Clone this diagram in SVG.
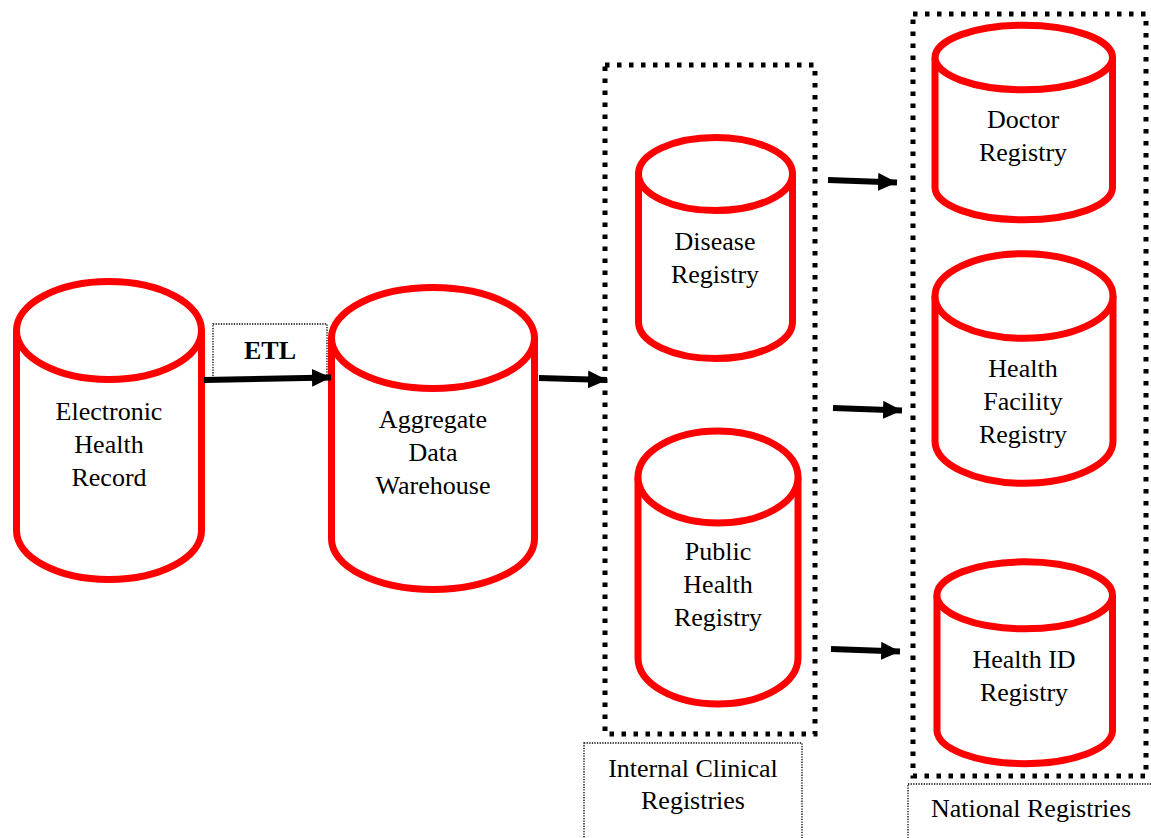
<svg xmlns="http://www.w3.org/2000/svg" width="1151" height="838" viewBox="0 0 1151 838">
<style>
.cyl{fill:#fff;stroke:#ff0000;stroke-width:7}
.t{font-family:"Liberation Serif","Times New Roman",serif;font-size:26px;fill:#000;text-anchor:middle}
.grp{fill:none;stroke:#000;stroke-width:5;stroke-dasharray:4.5 7.5}
.lbl{fill:#fff;stroke:#000;stroke-width:1.3;stroke-dasharray:1.3 1.3}
.arr{stroke:#000;stroke-width:6;fill:none;marker-end:url(#ah)}
</style>
<defs>
<marker id="ah" markerUnits="userSpaceOnUse" markerWidth="20" markerHeight="20" refX="19" refY="9" orient="auto">
<path d="M0,0 L19,9 L0,18 z" fill="#000"/>
</marker>
</defs>
<rect width="1151" height="838" fill="#fff"/>
<g id="groups">
<rect id="internal-box" class="grp" x="605" y="65" width="210" height="669"/>
<rect id="national-box" class="grp" x="913" y="14" width="233" height="762"/>
</g>
<g id="label-internal">
<rect class="lbl" x="584" y="743" width="218" height="110"/>
<text class="t" x="693" y="777">Internal Clinical</text>
<text class="t" x="693" y="809">Registries</text>
</g>
<g id="label-national">
<rect class="lbl" x="908" y="784" width="260" height="70"/>
<text class="t" x="1031" y="817">National Registries</text>
</g>
<g id="label-etl">
<rect class="lbl" x="213" y="324" width="114" height="55"/>
<text class="t" x="270" y="359" font-weight="bold">ETL</text>
</g>
<g id="ehr">
<path class="cyl" d="M16.5,330.5 L16.5,530.5 A92.5,49 0 0 0 201.5,530.5 L201.5,330.5"/>
<ellipse class="cyl" cx="109" cy="330.5" rx="92.5" ry="49"/>
<text class="t" x="109" y="420">Electronic</text>
<text class="t" x="109" y="453">Health</text>
<text class="t" x="109" y="486">Record</text>
</g>
<g id="adw">
<path class="cyl" d="M331.5,338 L331.5,539 A101.5,50.5 0 0 0 534.5,539 L534.5,338"/>
<ellipse class="cyl" cx="433" cy="338" rx="101.5" ry="50.5"/>
<text class="t" x="433" y="428">Aggregate</text>
<text class="t" x="433" y="461">Data</text>
<text class="t" x="433" y="494">Warehouse</text>
</g>
<g id="disease">
<path class="cyl" d="M638.5,174 L638.5,322 A77,36.5 0 0 0 792.5,322 L792.5,174"/>
<ellipse class="cyl" cx="715.5" cy="174" rx="77" ry="36.5"/>
<text class="t" x="715" y="250">Disease</text>
<text class="t" x="715" y="283">Registry</text>
</g>
<g id="public-health">
<path class="cyl" d="M638,477 L638,658 A80,46 0 0 0 798,658 L798,477"/>
<ellipse class="cyl" cx="718" cy="477" rx="80" ry="46"/>
<text class="t" x="718" y="560">Public</text>
<text class="t" x="718" y="593">Health</text>
<text class="t" x="718" y="626">Registry</text>
</g>
<g id="doctor">
<path class="cyl" d="M935,57.5 L935,187.5 A88.7,32.3 0 0 0 1112.5,187.5 L1112.5,57.5"/>
<ellipse class="cyl" cx="1023.8" cy="57.5" rx="88.7" ry="32.3"/>
<text class="t" x="1023" y="128">Doctor</text>
<text class="t" x="1023" y="161">Registry</text>
</g>
<g id="facility">
<path class="cyl" d="M935,296 L935,441 A89,42.3 0 0 0 1113,441 L1113,296"/>
<ellipse class="cyl" cx="1024" cy="296" rx="89" ry="42.3"/>
<text class="t" x="1023" y="377">Health</text>
<text class="t" x="1023" y="410">Facility</text>
<text class="t" x="1023" y="443">Registry</text>
</g>
<g id="healthid">
<path class="cyl" d="M937,595.3 L937,731.3 A87.8,33.5 0 0 0 1112.5,731.3 L1112.5,595.3"/>
<ellipse class="cyl" cx="1024.7" cy="595.3" rx="87.8" ry="33.5"/>
<text class="t" x="1024" y="668">Health ID</text>
<text class="t" x="1024" y="701">Registry</text>
</g>
<g id="connectors">
<line class="arr" x1="204" y1="380" x2="331" y2="377.5"/>
<line class="arr" x1="539" y1="378" x2="607" y2="380"/>
<line class="arr" x1="828" y1="180" x2="897" y2="182.5"/>
<line class="arr" x1="833" y1="408" x2="902" y2="410.5"/>
<line class="arr" x1="831" y1="649" x2="900" y2="651.5"/>
</g>
</svg>
